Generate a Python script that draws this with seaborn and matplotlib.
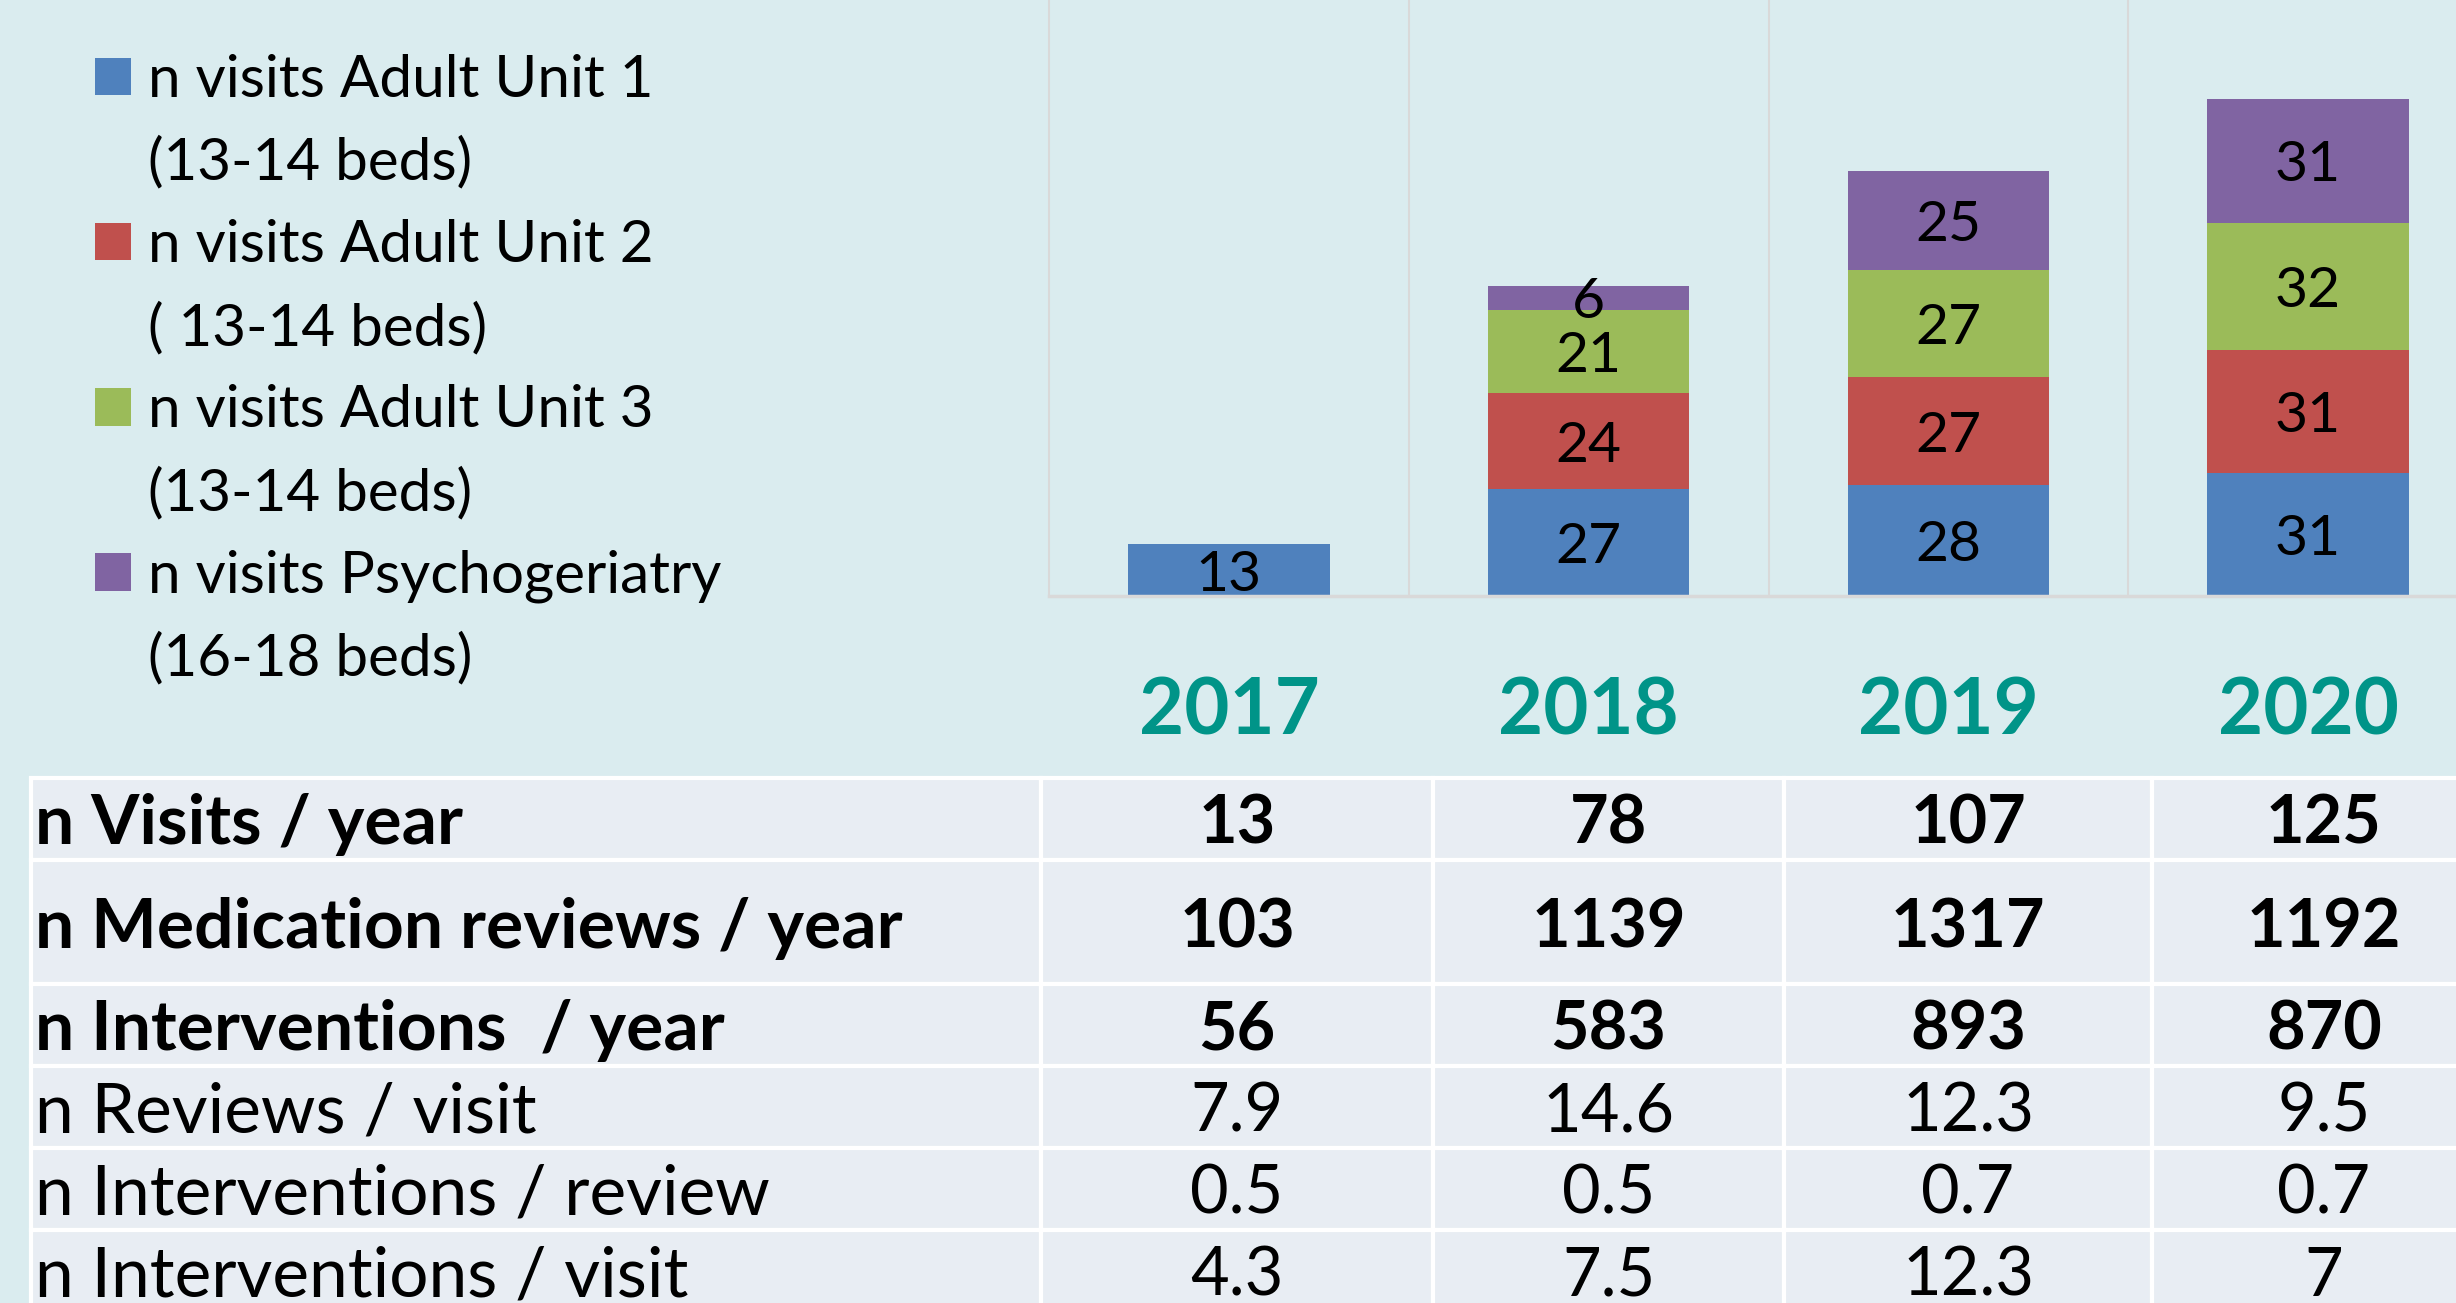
import matplotlib
matplotlib.use("Agg")
import matplotlib.pyplot as plt
from matplotlib.patches import Patch
import seaborn as sns
import pandas as pd

# --- data ---
years = ["2017", "2018", "2019", "2020"]
unit1 = [13, 27, 28, 31]
unit2 = [0, 24, 27, 31]
unit3 = [0, 21, 27, 32]
psycho = [0, 6, 25, 31]
series_names = ["n visits Adult Unit 1", "n visits Adult Unit 2",
                "n visits Adult Unit 3", "n visits Psychogeriatry"]
series_beds = ["(13-14 beds)", "( 13-14 beds)", "(13-14 beds)", "(16-18 beds)"]
colors = ["#4F81BD", "#C0504D", "#9BBB59", "#8064A2"]

row_labels = ["n Visits / year", "n Medication reviews / year",
              "n Interventions  / year", "n Reviews / visit",
              "n Interventions / review", "n Interventions / visit"]
visits_year = ["13", "78", "107", "125"]
reviews_year = ["103", "1139", "1317", "1192"]
interv_year = ["56", "583", "893", "870"]
reviews_visit = ["7.9", "14.6", "12.3", "9.5"]
interv_review = ["0.5", "0.5", "0.7", "0.7"]
interv_visit = ["4.3", "7.5", "12.3", "7"]
bold_rows = [True, True, True, False, False, False]

BG = "#DAECEF"
TEAL = "#009488"
GRID = "#D9D9D9"

sns.set_theme(style="white")
plt.rcParams["font.family"] = ["Lato", "DejaVu Sans"]

W, H = 2456, 1303
fig = plt.figure(figsize=(W / 100, H / 100), dpi=100, facecolor=BG)

# --- stacked bar chart ---
ax = fig.add_axes([1049 / W, 1 - 596 / H, (2488 - 1049) / W, 596 / H])
ax.set_facecolor(BG)
df = pd.DataFrame({"year": years, "u1": unit1, "u2": unit2, "u3": unit3, "ps": psycho})
bottom = [0] * len(years)
for col, color in zip(["u1", "u2", "u3", "ps"], colors):
    sns.barplot(data=df, x="year", y=col, order=years, color=color,
                width=0.56, bottom=bottom, errorbar=None, saturation=1,
                linewidth=0, ax=ax)
    bottom = [b + v for b, v in zip(bottom, df[col])]

for cont, col in zip(ax.containers, ["u1", "u2", "u3", "ps"]):
    labels = [str(v) if v > 0 else "" for v in df[col]]
    texts = ax.bar_label(cont, labels=labels, label_type="center", fontsize=41, color="black")
    for t in texts:
        t.set_va("center_baseline")

ax.set_xlim(-0.5, 3.5)
ax.set_ylim(0, 150)
ax.set_yticks([])
ax.set_xlabel("")
ax.set_ylabel("")
ax.set_xticks(range(len(years)))
ax.set_xticklabels(years, fontsize=56, fontweight="bold", color=TEAL)
ax.tick_params(axis="x", length=0, pad=58)
ax.set_xticks([0.5, 1.5, 2.5], minor=True)
ax.tick_params(axis="x", which="minor", length=0)
ax.grid(which="minor", axis="x", color=GRID, linewidth=1.5)
ax.set_axisbelow(True)
for side in ["top", "right"]:
    ax.spines[side].set_visible(False)
ax.spines["left"].set_color(GRID)
ax.spines["left"].set_linewidth(1.5)
ax.spines["bottom"].set_color(GRID)
ax.spines["bottom"].set_linewidth(2.5)

# --- legend (two lines per entry) ---
handles, labels = [], []
for name, beds, color in zip(series_names, series_beds, colors):
    handles.append(Patch(facecolor=color, edgecolor="none"))
    labels.append(name)
    handles.append(Patch(facecolor="none", edgecolor="none"))
    labels.append(beds)
fig.legend(handles, labels, loc="upper left", bbox_to_anchor=(95 / W, 1 - 54 / H),
           frameon=False, fontsize=42, labelcolor="black",
           handlelength=0.62, handleheight=0.62,
           handletextpad=0.28, labelspacing=0.50, borderpad=0, borderaxespad=0)

# --- table ---
ax_t = fig.add_axes([31 / W, 1 - 1312 / H, (2496 - 31) / W, (1312 - 778) / H])
ax_t.axis("off")
value_rows = [visits_year, reviews_year, interv_year, reviews_visit, interv_review, interv_visit]
cells = [[lab] + vals for lab, vals in zip(row_labels, value_rows)]
col_w = [1010, 392, 351, 368, 344]
row_h = [82, 124, 82, 82, 82, 82]
tbl = ax_t.table(cellText=cells, cellLoc="center",
                 colWidths=[w / sum(col_w) for w in col_w], bbox=[0, 0, 1, 1])
tbl.auto_set_font_size(False)
for (r, c), cell in tbl.get_celld().items():
    cell.set_height(row_h[r] / sum(row_h))
    cell.set_facecolor("#E8EDF3")
    cell.set_edgecolor("white")
    cell.set_linewidth(3)
    txt = cell.get_text()
    txt.set_fontsize(48)
    txt.set_fontweight("bold" if bold_rows[r] else "normal")
    txt.set_color("black")
    txt.set_verticalalignment("center_baseline")
    if c == 0:
        cell._loc = "left"
        cell.PAD = 0.004
        txt.set_horizontalalignment("left")
        txt.set_fontsize(50)

fig.savefig("out.png", dpi=100, facecolor=BG)
